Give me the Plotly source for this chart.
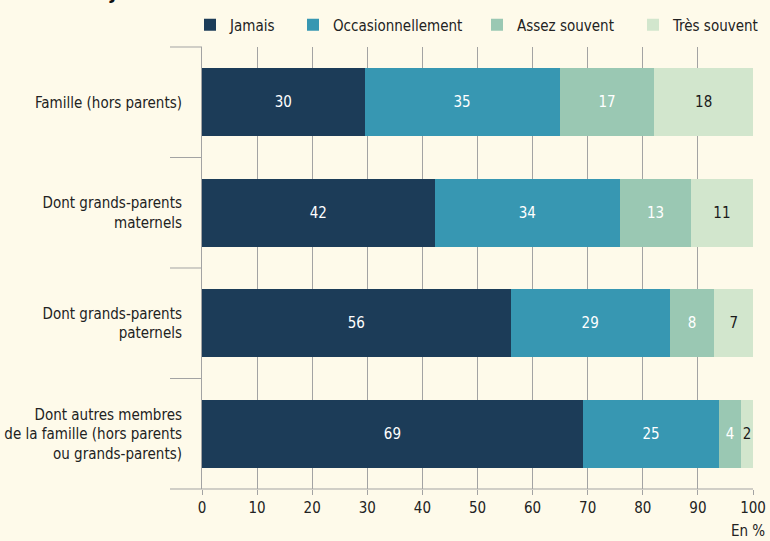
import plotly.graph_objects as go

categories = [
    "Famille (hors parents)",
    "Dont grands-parents<br>maternels",
    "Dont grands-parents<br>paternels",
    "Dont autres membres<br>de la famille (hors parents<br>ou grands-parents)",
]
series_names = ["Jamais", "Occasionnellement", "Assez souvent", "Très souvent"]
jamais = [29.5, 42.2, 56.0, 69.1]
occasionnellement = [35.4, 33.7, 28.9, 24.8]
assez_souvent = [17.2, 12.8, 8.1, 3.9]
tres_souvent = [17.9, 11.3, 7.0, 2.2]
label_jamais = ["30", "42", "56", "69"]
label_occ = ["35", "34", "29", "25"]
label_assez = ["17", "13", "8", "4"]
label_tres = ["18", "11", "7", "2"]
x_ticks = [0, 10, 20, 30, 40, 50, 60, 70, 80, 90, 100]

colors = ["#1C3C58", "#3797B2", "#9AC8B3", "#D2E6CD"]
text_colors = ["#FFFFFF", "#FFFFFF", "#FFFFFF", "#1A1A1A"]
FONT = "DejaVu Sans Condensed"
FS = 15
BG = "#FEFAEA"
GRID = "#A3A3A3"

values = [jamais, occasionnellement, assez_souvent, tres_souvent]
labels = [label_jamais, label_occ, label_assez, label_tres]
legend_ids = ["legend", "legend2", "legend3", "legend4"]
legend_px = [190, 293, 477, 633]

L, R, T, B = 202, 17, 47, 52
W, H = 770, 541
pw = W - L - R
ph = H - T - B
ext = 32 / pw

fig = go.Figure()
for name, vals, labs, col, tcol, lid in zip(series_names, values, labels, colors, text_colors, legend_ids):
    fig.add_trace(go.Bar(
        name=name, y=categories, x=vals, orientation="h",
        marker=dict(color=col, line=dict(width=0)),
        text=labs, textposition="inside", insidetextanchor="middle",
        constraintext="none", textangle=0,
        insidetextfont=dict(family=FONT, size=FS, color=tcol),
        hoverinfo="skip", legend=lid,
    ))

shapes = []
for yy in [0.25, 0.5, 0.75, 1.0]:
    shapes.append(dict(type="line", xref="paper", yref="paper", x0=-ext, x1=0,
                       y0=yy, y1=yy, line=dict(color=GRID, width=1)))
shapes.append(dict(type="line", xref="paper", yref="paper", x0=-ext, x1=1,
                   y0=0, y1=0, line=dict(color=GRID, width=1)))

legend_layout = {}
for lid, px in zip(legend_ids, legend_px):
    legend_layout[lid] = dict(
        orientation="h", x=(px - L) / pw, xanchor="left", y=1 + 22 / ph, yanchor="middle",
        font=dict(family=FONT, size=FS, color="#222222"),
        bgcolor="rgba(0,0,0,0)", itemclick=False, itemdoubleclick=False,
    )

fig.update_layout(
    width=W, height=H,
    barmode="stack", bargap=0.385,
    paper_bgcolor=BG, plot_bgcolor=BG,
    margin=dict(l=L, r=R, t=T, b=B, pad=0, autoexpand=False),
    font=dict(family=FONT, size=FS, color="#222222"),
    showlegend=True,
    shapes=shapes,
    annotations=[
        dict(text="En %", xref="paper", yref="paper", x=1 + 14 / pw, y=-(531 - 489) / ph,
             xanchor="right", yanchor="middle", showarrow=False,
             font=dict(family=FONT, size=FS, color="#222222")),
        dict(text="<b>des jeunes enfants</b>", xref="paper", yref="paper",
             x=-(L - 66) / pw, y=1 + (T - 6) / ph, xanchor="left", yanchor="bottom",
             showarrow=False, font=dict(family=FONT, size=20, color="#111111")),
    ],
    **legend_layout,
)
fig.update_xaxes(
    range=[0, 100], tickvals=x_ticks, ticktext=[str(t) for t in x_ticks],
    showgrid=True, gridcolor=GRID, gridwidth=1, zeroline=False,
    showline=False, ticks="outside", ticklen=5, tickcolor=GRID, tickwidth=1,
    tickfont=dict(family=FONT, size=FS, color="#222222"), fixedrange=True,
    automargin=False,
)
fig.update_yaxes(
    autorange="reversed", showgrid=False, zeroline=False,
    showline=True, linecolor=GRID, linewidth=1,
    ticks="", ticklabelstandoff=16, automargin=False,
    tickfont=dict(family=FONT, size=FS, color="#222222"), fixedrange=True,
)

fig.write_html(
    "out.html",
    config={"displayModeBar": False},
    post_script="document.body.style.margin='0';document.body.style.overflow='hidden';",
)
